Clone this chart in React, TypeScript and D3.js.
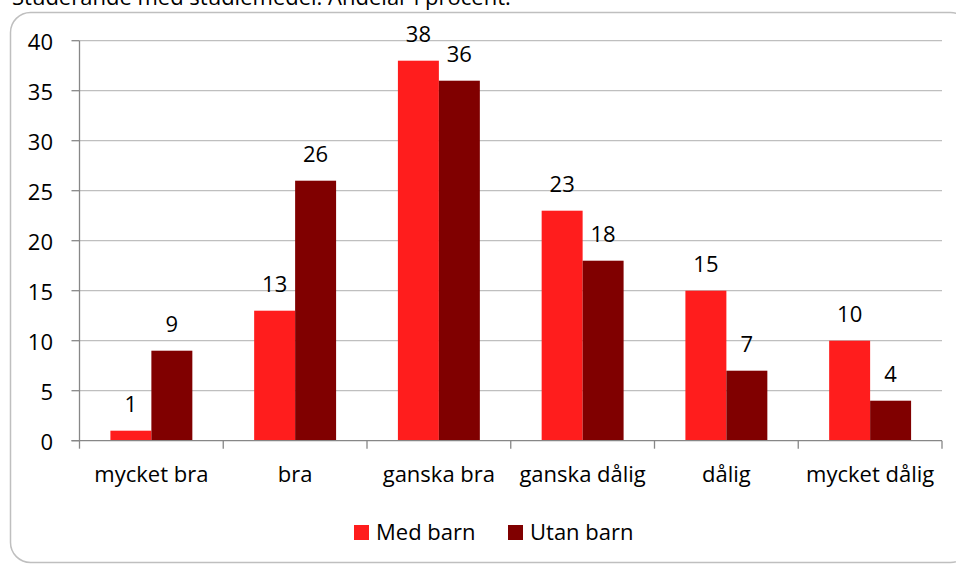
import React, { useEffect, useRef } from 'react';
import * as d3 from 'd3';

const categories = ['mycket bra', 'bra', 'ganska bra', 'ganska dålig', 'dålig', 'mycket dålig'];
const seriesNames = ['Med barn', 'Utan barn'];
const medBarn = [1, 13, 38, 23, 15, 10];
const utanBarn = [9, 26, 36, 18, 7, 4];
const yTicks = [0, 5, 10, 15, 20, 25, 30, 35, 40];
const colors = ['#FF1D1D', '#800000'];

const W = 956;
const H = 565;
const FONT = '"Open Sans", sans-serif';
const FS = '22px';

const App: React.FC = () => {
  const svgRef = useRef<SVGSVGElement>(null);

  useEffect(() => {
    if (!svgRef.current) return;
    const svg = d3.select(svgRef.current);
    svg.selectAll('*').remove();

    const left = 79.5;
    const right = 942;
    const top = 40.7;
    const bottom = 440.7;

    // outer frame (cut off at the right)
    svg.append('rect')
      .attr('x', 10.5).attr('y', 12.5)
      .attr('width', 960).attr('height', 550)
      .attr('rx', 20).attr('ry', 20)
      .style('fill', 'none').style('stroke', '#BFBFBF').style('stroke-width', 1.5);

    // title, mostly above the visible area
    svg.append('text')
      .attr('x', 12).attr('y', 5)
      .style('font-family', FONT).style('font-size', FS).style('fill', '#000')
      .text('Studerande med studiemedel. Andelar i procent.');

    const x0 = d3.scaleBand<string>().domain(categories).range([left, right]).padding(0);
    const bw = x0.bandwidth();
    const pad = bw * 0.215;
    const x1 = d3.scaleBand<string>().domain(seriesNames).range([pad, bw - pad]).padding(0);
    const y = d3.scaleLinear().domain([0, 40]).range([bottom, top]);

    // gridlines
    svg.append('g').selectAll('line').data(yTicks.filter(t => t > 0)).join('line')
      .attr('x1', left).attr('x2', right)
      .attr('y1', d => y(d)).attr('y2', d => y(d))
      .style('stroke', '#BFBFBF').style('stroke-width', 1.3);

    // y ticks + labels
    svg.append('g').selectAll('line').data(yTicks).join('line')
      .attr('x1', left - 8).attr('x2', left)
      .attr('y1', d => y(d)).attr('y2', d => y(d))
      .style('stroke', '#878787').style('stroke-width', 1.3);
    svg.append('g').selectAll('text').data(yTicks).join('text')
      .attr('x', 53).attr('y', d => y(d))
      .attr('text-anchor', 'end').attr('dominant-baseline', 'central')
      .style('font-family', FONT).style('font-size', FS).style('fill', '#000')
      .text(d => d);

    // bars
    const series = [medBarn, utanBarn];
    series.forEach((vals, si) => {
      const g = svg.append('g');
      g.selectAll('rect').data(vals).join('rect')
        .attr('x', (d, i) => x0(categories[i])! + x1(seriesNames[si])!)
        .attr('y', d => y(d))
        .attr('width', x1.bandwidth())
        .attr('height', d => bottom - y(d))
        .style('fill', colors[si]);
      g.selectAll('text').data(vals).join('text')
        .attr('x', (d, i) => x0(categories[i])! + x1(seriesNames[si])! + x1.bandwidth() / 2)
        .attr('y', d => y(d) - 19)
        .attr('text-anchor', 'middle')
        .style('font-family', FONT).style('font-size', FS).style('fill', '#000')
        .text(d => d);
    });

    // axes lines
    svg.append('line')
      .attr('x1', left).attr('x2', left).attr('y1', top).attr('y2', bottom)
      .style('stroke', '#878787').style('stroke-width', 1.3);
    svg.append('line')
      .attr('x1', left - 8).attr('x2', right).attr('y1', bottom).attr('y2', bottom)
      .style('stroke', '#878787').style('stroke-width', 1.3);
    const bounds = categories.map(c => x0(c)!).concat([right]);
    svg.append('g').selectAll('line').data(bounds).join('line')
      .attr('x1', d => d).attr('x2', d => d).attr('y1', bottom).attr('y2', bottom + 8)
      .style('stroke', '#878787').style('stroke-width', 1.3);

    // category labels
    svg.append('g').selectAll('text').data(categories).join('text')
      .attr('x', d => x0(d)! + bw / 2).attr('y', 482)
      .attr('text-anchor', 'middle')
      .style('font-family', FONT).style('font-size', FS).style('fill', '#000')
      .text(d => d);

    // legend
    const legendX = [354, 508];
    seriesNames.forEach((name, i) => {
      svg.append('rect')
        .attr('x', legendX[i]).attr('y', 525).attr('width', 15).attr('height', 15)
        .style('fill', colors[i]);
      svg.append('text')
        .attr('x', legendX[i] + 22).attr('y', 540)
        .style('font-family', FONT).style('font-size', FS).style('fill', '#000')
        .text(name);
    });
  }, []);

  return (
    <div style={{ position: 'absolute', left: 0, top: 0, width: W, height: H, background: '#fff' }}>
      <svg ref={svgRef} width={W} height={H} style={{ display: 'block' }}></svg>
    </div>
  );
};

export default App;
